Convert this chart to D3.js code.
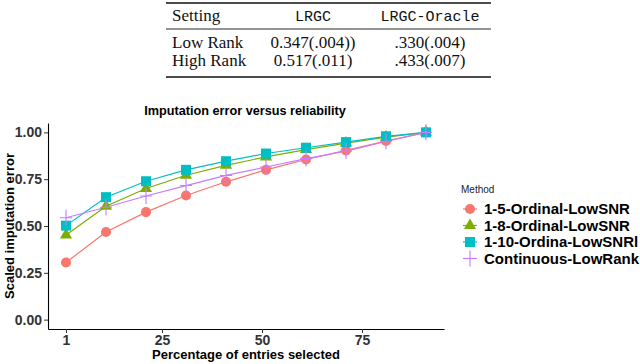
<!DOCTYPE html>
<html>
<head>
  <meta charset="utf-8">
  <title>Imputation error versus reliability</title>
  <script src="https://d3js.org/d3.v7.min.js"></script>
  <style>
    body { margin: 0; background: #fff; }
  </style>
</head>
<body>
  <script>
    // table data
    var tableHeader = ["Setting", "LRGC", "LRGC-Oracle"];
    var tableRows = [
      ["Low Rank", "0.347(.004))", ".330(.004)"],
      ["High Rank", "0.517(.011)", ".433(.007)"]
    ];

    // chart data
    var pct = [1, 11, 21, 31, 41, 51, 61, 71, 81, 91];
    var methods = ["1-5-Ordinal-LowSNR", "1-8-Ordinal-LowSNR", "1-10-Ordina-LowSNRl", "Continuous-LowRank"];
    var ord5 = [0.305, 0.468, 0.574, 0.663, 0.736, 0.800, 0.855, 0.904, 0.954, 1.0];
    var ord8 = [0.452, 0.606, 0.700, 0.771, 0.824, 0.869, 0.908, 0.943, 0.975, 1.0];
    var ord10 = [0.502, 0.654, 0.739, 0.800, 0.846, 0.887, 0.918, 0.948, 0.979, 1.0];
    var cont = [0.544, 0.600, 0.660, 0.716, 0.770, 0.815, 0.860, 0.900, 0.952, 1.0];
    var xTicks = [1, 25, 50, 75];
    var yTicks = [0, 0.25, 0.5, 0.75, 1];

    var colors = ["#F8766D", "#7CAE00", "#00BFC4", "#C77CFF"];
    var seriesVals = [ord5, ord8, ord10, cont];
    var series = methods.map((m, i) => ({
      name: m, color: colors[i], shape: i,
      values: pct.map((p, j) => ({ x: p, y: seriesVals[i][j] }))
    }));

    var width = 640, height = 364;
    var svg = d3.select("body").append("svg").attr("width", width).attr("height", height);

    // ---- table ----
    var serif = "'Liberation Serif', 'Times New Roman', serif";
    var mono = "'Liberation Mono', 'DejaVu Sans Mono', monospace";
    var tbl = svg.append("g");
    var tl = 166, tr = 491;
    [[3, 1.5], [29, 0.9], [77, 1.5]].forEach(r => {
      tbl.append("line").attr("x1", tl).attr("x2", tr).attr("y1", r[0]).attr("y2", r[0])
        .attr("stroke", "#111").attr("stroke-width", r[1]);
    });
    var colX = [172, 313, 430];
    var colAnchor = ["start", "middle", "middle"];
    tableHeader.forEach((h, i) => {
      tbl.append("text").attr("x", colX[i]).attr("y", 21)
        .attr("text-anchor", colAnchor[i])
        .attr("font-family", i == 0 ? serif : mono)
        .attr("font-size", i == 0 ? 17 : 15)
        .attr("fill", "#111").text(h);
    });
    tableRows.forEach((row, r) => {
      row.forEach((c, i) => {
        tbl.append("text").attr("x", colX[i]).attr("y", 48 + r * 18)
          .attr("text-anchor", colAnchor[i])
          .attr("font-family", serif).attr("font-size", 17)
          .attr("fill", "#111").text(c);
      });
    });

    // ---- chart ----
    var sans = "'Liberation Sans', Arial, sans-serif";
    var x = d3.scaleLinear().domain([-3.5, 95.5]).range([48, 444]);
    var y = d3.scaleLinear().domain([-0.05, 1.05]).range([329, 123]);

    var yAxis = svg.append("g").attr("transform", "translate(48,0)")
      .call(d3.axisLeft(y).tickValues(yTicks).tickFormat(d3.format(".2f")).tickSize(4).tickSizeOuter(0).tickPadding(2));
    var xAxis = svg.append("g").attr("transform", "translate(0,329)")
      .call(d3.axisBottom(x).tickValues(xTicks).tickSize(4).tickSizeOuter(0).tickPadding(2));
    [xAxis, yAxis].forEach(a => {
      a.select(".domain").attr("stroke", "#000").attr("stroke-width", 1.1);
      a.selectAll(".tick line").attr("stroke", "#333");
      a.selectAll(".tick text").attr("font-family", sans).attr("font-weight", "bold")
        .attr("font-size", 14).attr("fill", "#333");
    });

    svg.append("text").attr("x", 245).attr("y", 115).attr("text-anchor", "middle")
      .attr("font-family", sans).attr("font-weight", "bold").attr("font-size", 12.7)
      .text("Imputation error versus reliability");
    svg.append("text").attr("x", 246).attr("y", 359).attr("text-anchor", "middle")
      .attr("font-family", sans).attr("font-weight", "bold").attr("font-size", 13)
      .text("Percentage of entries selected");
    svg.append("text").attr("transform", "translate(14,226) rotate(-90)").attr("text-anchor", "middle")
      .attr("font-family", sans).attr("font-weight", "bold").attr("font-size", 13)
      .text("Scaled imputation error");

    function shapePath(s) {
      if (s == 0) return d3.symbol(d3.symbolCircle, 80)();
      if (s == 1) return d3.symbol(d3.symbolTriangle, 64)();
      if (s == 2) return d3.symbol(d3.symbolSquare, 100)();
      return "M-6,0H6M0,-8V8";
    }
    function drawMarker(g, s, color) {
      var p = g.append("path").attr("d", shapePath(s));
      if (s == 3) p.attr("fill", "none").attr("stroke", color).attr("stroke-width", 1.1);
      else p.attr("fill", color);
    }

    var line = d3.line().x(d => x(d.x)).y(d => y(d.y));
    series.forEach(s => {
      svg.append("path").datum(s.values).attr("d", line)
        .attr("fill", "none").attr("stroke", s.color).attr("stroke-width", 1.2);
    });
    series.forEach(s => {
      s.values.forEach(d => {
        var g = svg.append("g").attr("transform", "translate(" + x(d.x) + "," + y(d.y) + ")");
        drawMarker(g, s.shape, s.color);
      });
    });

    // legend
    var lg = svg.append("g");
    lg.append("text").attr("x", 461).attr("y", 193).attr("font-family", sans)
      .attr("font-size", 10).attr("fill", "#222").text("Method");
    series.forEach((s, i) => {
      var cy = 209 + i * 16.5;
      var g = lg.append("g").attr("transform", "translate(470," + cy + ")");
      g.append("line").attr("x1", -7).attr("x2", 7).attr("stroke", s.color).attr("stroke-width", 1.2);
      drawMarker(g, s.shape, s.color);
      lg.append("text").attr("x", 484).attr("y", cy + 5).attr("font-family", sans)
        .attr("font-weight", "bold").attr("font-size", 15).attr("fill", "#000").text(s.name);
    });
  </script>
</body>
</html>
